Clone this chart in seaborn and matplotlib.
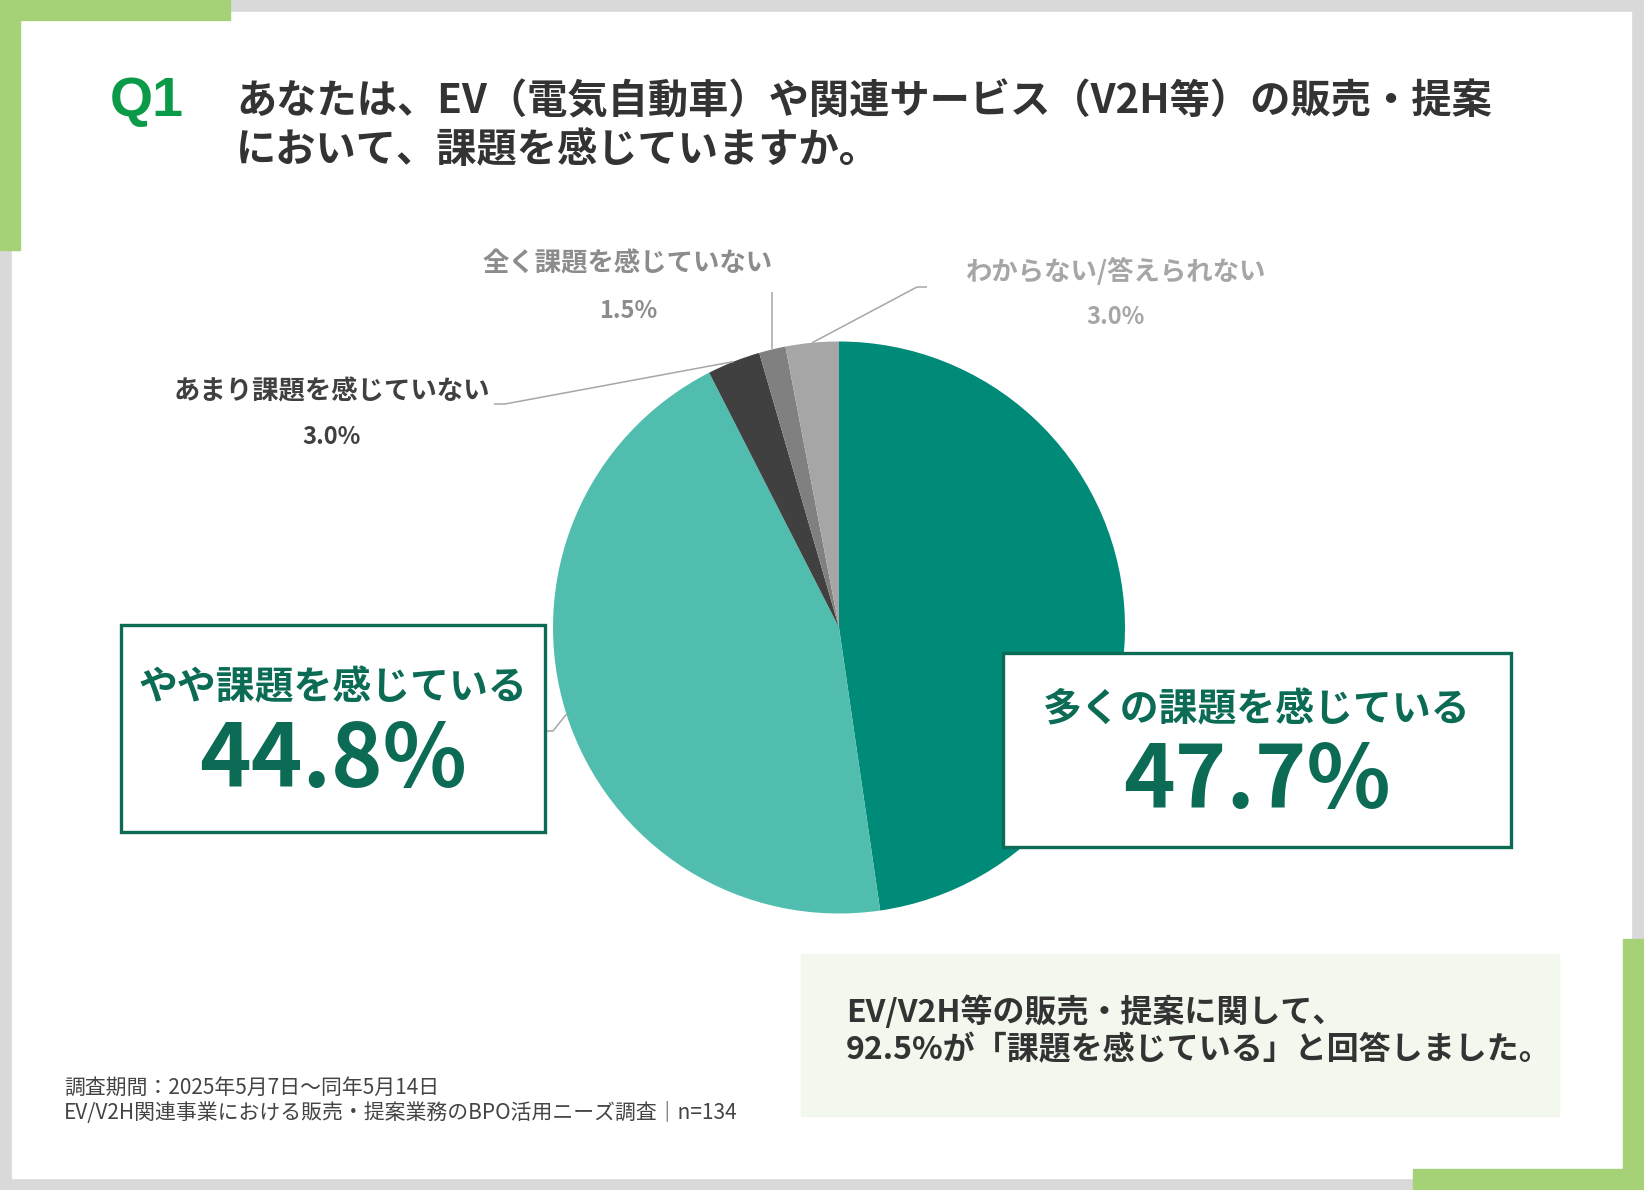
import numpy as np
import matplotlib
matplotlib.use("Agg")
import matplotlib.pyplot as plt
from matplotlib import patches
import seaborn as sns

# data
categories = ["多くの課題を感じている", "やや課題を感じている", "あまり課題を感じていない",
              "全く課題を感じていない", "わからない/答えられない"]
shares = [47.7, 44.8, 3.0, 1.5, 3.0]

title_q = "Q1"
title_lines = ["あなたは、EV（電気自動車）や関連サービス（V2H等）の販売・提案",
               "において、課題を感じていますか。"]
summary_lines = ["EV/V2H等の販売・提案に関して、",
                 "92.5%が「課題を感じている」と回答しました。"]
footnote_lines = ["調査期間：2025年5月7日～同年5月14日",
                  "EV/V2H関連事業における販売・提案業務のBPO活用ニーズ調査｜n=134"]

W, H = 1644, 1190
JP = ["Noto Sans CJK JP", "DejaVu Sans"]

sns.set_theme(style="white")
plt.rcParams["font.family"] = JP

slice_colors = ["#008a78", "#50bdae", "#404040", "#808080", "#a6a6a6"]
box_green = "#0b6b55"
line_gray = "#a6a6a6"


def Y(y):
    # pixel rows are measured from the top
    return H - y


fig = plt.figure(figsize=(W / 100, H / 100), dpi=100, facecolor="#d9d9d9")
ax = fig.add_axes([0, 0, 1, 1])
ax.set_facecolor("#d9d9d9")

# white card + green corner brackets
ax.add_patch(patches.Rectangle((12, Y(1178)), 1619, 1166, color="white", zorder=0))
lg = "#a5d276"
ax.add_patch(patches.Rectangle((0, Y(20)), 230, 20, color=lg, zorder=1))
ax.add_patch(patches.Rectangle((0, Y(250)), 20, 250, color=lg, zorder=1))
ax.add_patch(patches.Rectangle((1623, Y(1190)), 21, 251, color=lg, zorder=1))
ax.add_patch(patches.Rectangle((1413, Y(1190)), 231, 21, color=lg, zorder=1))

# title
ax.text(110, Y(102), title_q, fontsize=40, fontweight="bold", color="#0a9a48",
        family=["Liberation Sans", "DejaVu Sans"], ha="left", va="center")
ax.text(236, Y(102), title_lines[0], fontsize=29, fontweight="bold", color="#333333",
        ha="left", va="center")
ax.text(236, Y(150), title_lines[1], fontsize=29, fontweight="bold", color="#333333",
        ha="left", va="center")

# pie
cx, cy, r = 839, 627.5, 286
wedges, _ = ax.pie(shares, colors=slice_colors, startangle=90, counterclock=False,
                   center=(cx, Y(cy)), radius=r, wedgeprops=dict(linewidth=0))
for w in wedges:
    w.set_zorder(2)


def edge_point(i):
    w = wedges[i]
    t = np.deg2rad((w.theta1 + w.theta2) / 2)
    return cx + r * np.cos(t), cy - r * np.sin(t)


def leader(pts):
    xs = [p[0] for p in pts]
    ys = [Y(p[1]) for p in pts]
    ax.plot(xs, ys, color=line_gray, lw=1.1, zorder=3, solid_capstyle="butt")


ex, ey = edge_point(2)
leader([(494, 404), (505, 404), (ex, ey)])
ex, ey = edge_point(3)
leader([(ex, 292), (ex, ey)])
ex, ey = edge_point(4)
leader([(ex, ey), (917, 287), (927, 287)])
ex, ey = edge_point(1)
leader([(545, 731), (553, 731), (ex, ey)])

# small slice labels
small = [(2, 332, 392, 437, "#404040"),
         (3, 628, 264, 311, "#8c8c8c"),
         (4, 1116, 272, 317, "#a6a6a6")]
for i, x, y1, y2, c in small:
    ax.text(x, Y(y1), categories[i], fontsize=19, fontweight="bold", color=c,
            ha="center", va="center", zorder=4)
    ax.text(x, Y(y2), f"{shares[i]:.1f}%", fontsize=17, fontweight="bold", color=c,
            ha="center", va="center", zorder=4)

# big callout boxes
boxes = [(1, 121, 625, 545, 832, 688, 787),
         (0, 1003, 653, 1511, 847, 710, 808)]
for i, x0, y0, x1, y1, ty, nb in boxes:
    ax.add_patch(patches.Rectangle((x0, Y(y1)), x1 - x0, y1 - y0, facecolor="white",
                                   edgecolor=box_green, lw=2.4, zorder=5))
    xc = (x0 + x1) / 2
    ax.text(xc, Y(ty), categories[i], fontsize=28, fontweight="bold", color=box_green,
            ha="center", va="center", zorder=6)
    ax.text(xc, Y(nb), f"{shares[i]:.1f}%", fontsize=63, fontweight="bold", color=box_green,
            ha="center", va="baseline", zorder=6)

# summary panel
ax.add_patch(patches.Rectangle((801, Y(1116)), 758, 162, color="#f3f8ee", zorder=1))
ax.text(846, Y(1012), summary_lines[0], fontsize=23, fontweight="bold", color="#333333",
        ha="left", va="center", zorder=2)
ax.text(846, Y(1050), summary_lines[1], fontsize=23, fontweight="bold", color="#333333",
        ha="left", va="center", zorder=2)

# footnote
ax.text(64, Y(1088), footnote_lines[0], fontsize=15, color="#444444", ha="left", va="center")
ax.text(64, Y(1113), footnote_lines[1], fontsize=15, color="#444444", ha="left", va="center")

ax.set_xlim(0, W)
ax.set_ylim(0, H)
ax.set_aspect("equal")
ax.set_axis_off()

fig.savefig("out.png", dpi=100, facecolor=fig.get_facecolor())
